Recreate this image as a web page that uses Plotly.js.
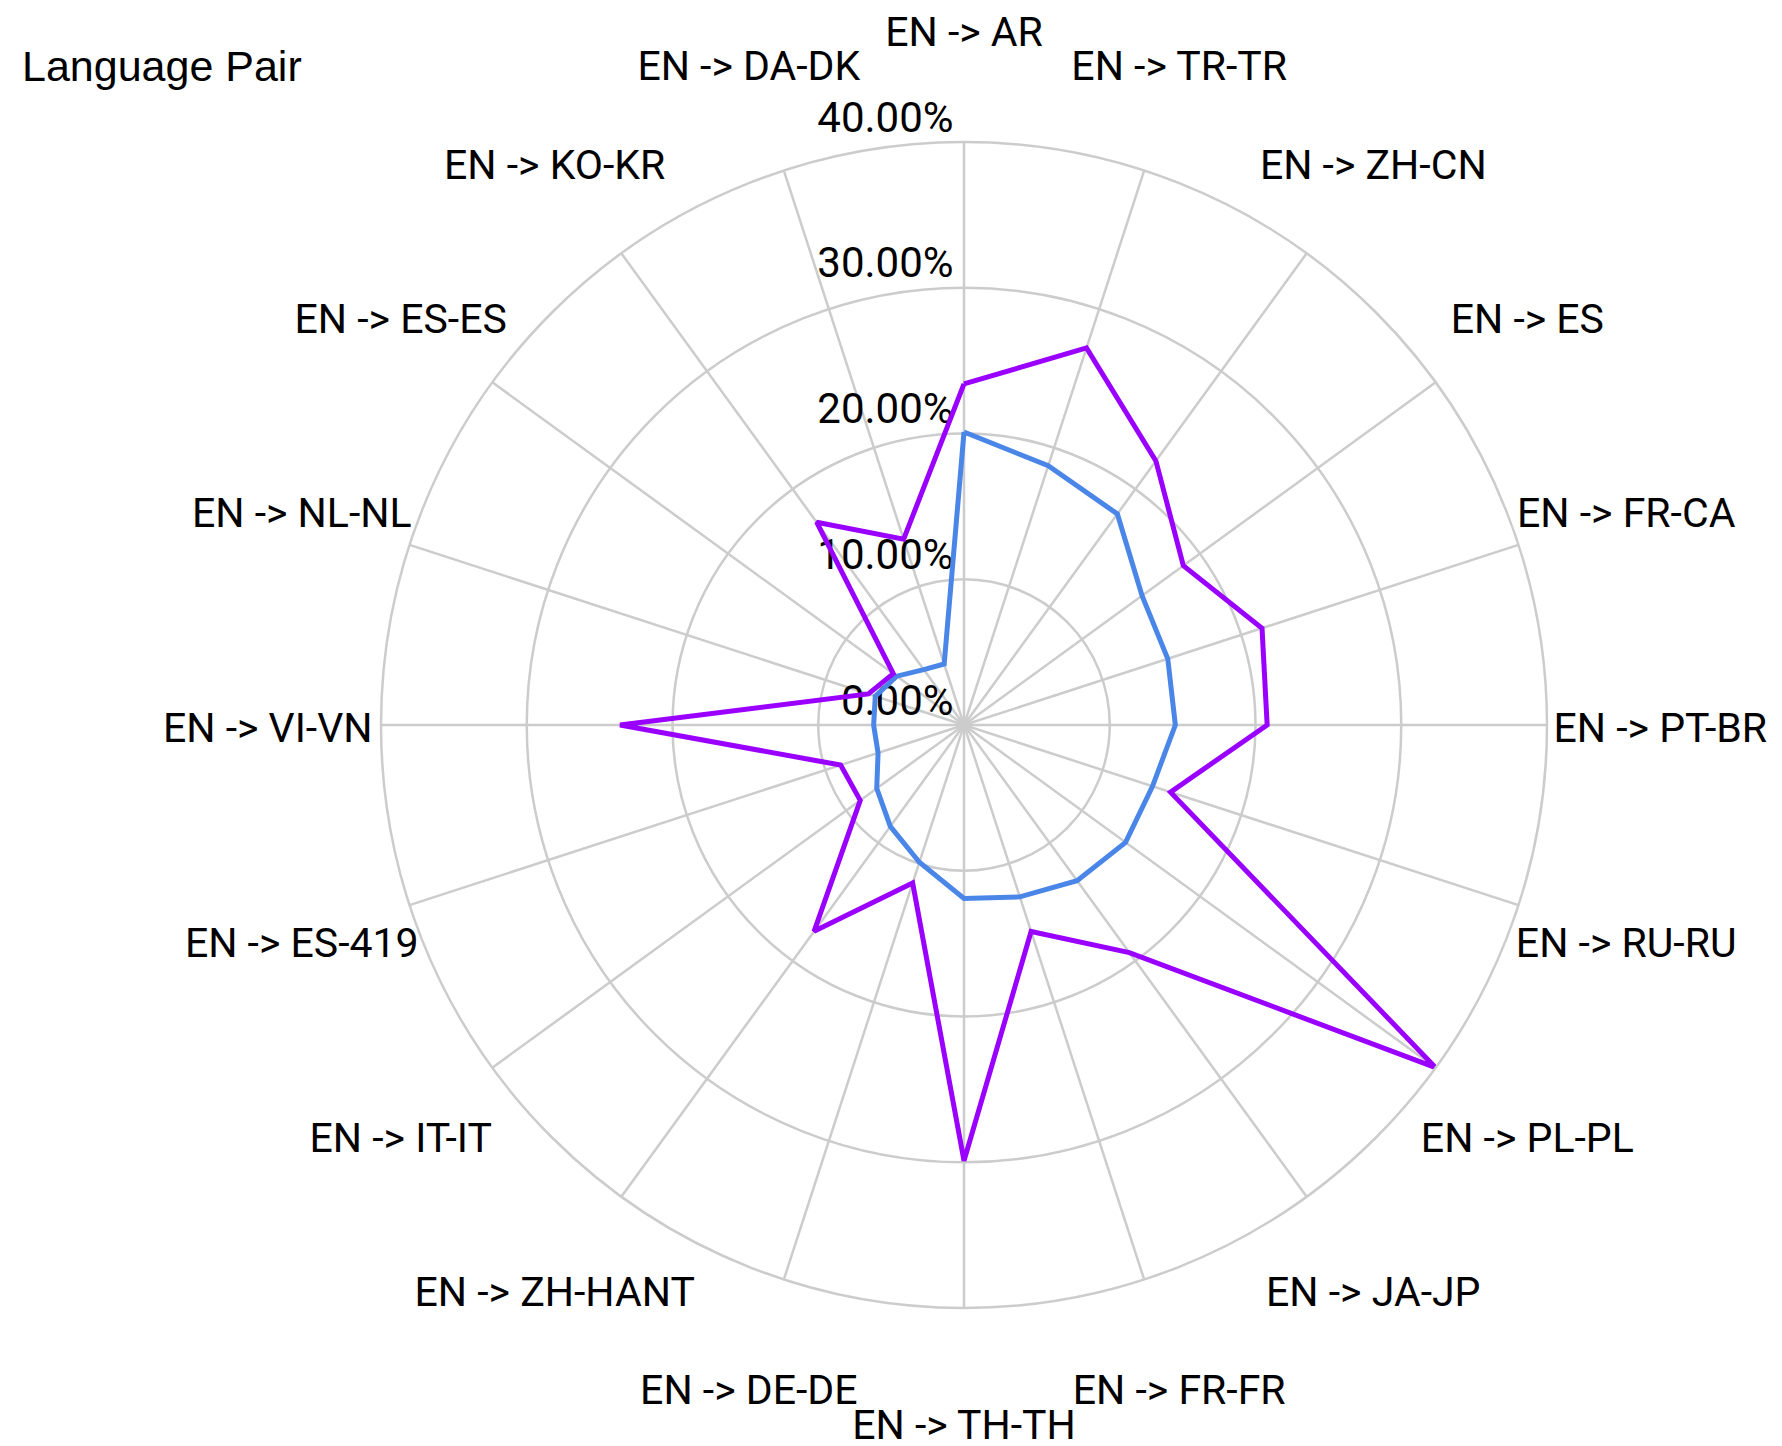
<!DOCTYPE html>
<html>
<head>
<meta charset="utf-8">
<script src="https://cdn.plot.ly/plotly-3.0.1.min.js"></script>
<style>html,body{margin:0;padding:0;background:#fff;}#chart{width:1782px;height:1446px;}</style>
</head>
<body>
<div id="chart"></div>
<script>
const categories = ["EN -> AR","EN -> TR-TR","EN -> ZH-CN","EN -> ES","EN -> FR-CA","EN -> PT-BR","EN -> RU-RU","EN -> PL-PL","EN -> JA-JP","EN -> FR-FR","EN -> TH-TH","EN -> DE-DE","EN -> ZH-HANT","EN -> IT-IT","EN -> ES-419","EN -> VI-VN","EN -> NL-NL","EN -> ES-ES","EN -> KO-KR","EN -> DA-DK"];
const seriesPurple = [0.234,0.272,0.224,0.186,0.215,0.208,0.149,0.400,0.193,0.149,0.299,0.114,0.175,0.088,0.089,0.236,0.069,0.060,0.172,0.134];
const seriesBlue = [0.201,0.187,0.179,0.151,0.147,0.145,0.136,0.137,0.132,0.124,0.119,0.099,0.086,0.074,0.062,0.062,0.064,0.057,0.047,0.044];
const radialTicks = [0,0.1,0.2,0.3,0.4];
const radialTickLabels = ["0.00%","10.00%","20.00%","30.00%","40.00%"];
const legendTitle = "Language Pair";

function closed(arr){ return arr.concat([arr[0]]); }

const W = 1782, H = 1446, CX = 964, CY = 725, R = 583, RL = 697, LBL_DY = 7;
function dom(rad, cy){
  return {x:[(CX-rad)/W,(CX+rad)/W], y:[(H-cy-rad)/H,(H-cy+rad)/H]};
}

const traces = [
  {type:'scatterpolar', subplot:'polar', mode:'text',
   r:radialTicks, theta:radialTicks.map(()=>categories[0]),
   text:radialTickLabels.map(s=>s+'\u00a0'), textposition:'top left',
   textfont:{family:'Roboto, sans-serif', size:42, color:'#000'},
   cliponaxis:false, showlegend:false, hoverinfo:'skip'},
  {type:'scatterpolar', subplot:'polar', mode:'lines', r:closed(seriesBlue), theta:closed(categories),
   line:{color:'#4a86e8', width:5}, showlegend:false, hoverinfo:'skip'},
  {type:'scatterpolar', subplot:'polar', mode:'lines', r:closed(seriesPurple), theta:closed(categories),
   line:{color:'#9900ff', width:5}, showlegend:false, hoverinfo:'skip'},
  {type:'scatterpolar', subplot:'polar2', mode:'text',
   r:categories.map(()=>0.999), theta:categories, text:categories, textposition:'middle center',
   textfont:{family:'Roboto, sans-serif', size:41, color:'#000'},
   cliponaxis:false, showlegend:false, hoverinfo:'skip'}
];

const layout = {
  width:W, height:H,
  margin:{l:0,r:0,t:0,b:0},
  paper_bgcolor:'#ffffff',
  font:{family:'Roboto, sans-serif', size:40, color:'#000000'},
  polar:{
    domain:dom(R, CY),
    bgcolor:'#ffffff',
    angularaxis:{
      type:'category', categoryarray:categories, direction:'clockwise', rotation:90,
      gridcolor:'#cccccc', gridwidth:2.5, showline:true, linecolor:'#cccccc', linewidth:2.5,
      ticks:'', showticklabels:false
    },
    radialaxis:{
      range:[0,0.4], tickvals:radialTicks, angle:90,
      showline:false, ticks:'', showticklabels:false, gridcolor:'#cccccc', gridwidth:2.5
    }
  },
  polar2:{
    domain:dom(RL, CY+LBL_DY),
    bgcolor:'rgba(0,0,0,0)',
    angularaxis:{
      type:'category', categoryarray:categories, direction:'clockwise', rotation:90,
      showgrid:false, showline:false, ticks:'', showticklabels:false
    },
    radialaxis:{range:[0,1], visible:false, showgrid:false}
  },
  annotations:[{
    text:legendTitle, xref:'paper', yref:'paper', x:20/W, y:1-66/H,
    xanchor:'left', yanchor:'middle', showarrow:false,
    font:{family:'Liberation Sans, Arial, sans-serif', size:43, color:'#000'}
  }]
};

Plotly.newPlot('chart', traces, layout, {displayModeBar:false, staticPlot:true});
</script>
</body>
</html>
